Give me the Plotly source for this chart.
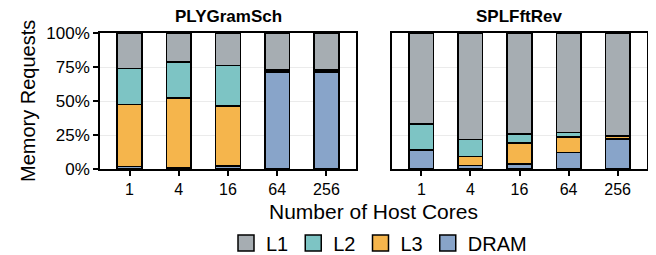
import plotly.graph_objects as go

categories = ["1", "4", "16", "64", "256"]
panels = ["PLYGramSch", "SPLFftRev"]
levels = ["DRAM", "L3", "L2", "L1"]  # bottom to top
legend_order = ["L1", "L2", "L3", "DRAM"]

ply_dram = [1.7, 1.0, 2.3, 71.5, 71.5]
ply_l3 = [45.7, 51.3, 43.9, 0.8, 0.8]
ply_l2 = [26.4, 26.2, 29.8, 1.0, 1.0]
ply_l1 = [26.2, 21.5, 24.0, 26.7, 26.7]

spl_dram = [14.1, 2.7, 3.5, 12.1, 22.1]
spl_l3 = [0.0, 6.4, 15.5, 11.6, 2.2]
spl_l2 = [19.0, 12.6, 6.9, 3.2, 0.2]
spl_l1 = [66.9, 78.3, 74.1, 73.1, 75.5]

y_ticks = [0, 25, 50, 75, 100]
y_ticktext = ["0%", "25%", "50%", "75%", "100%"]

colors = {"L1": "#A6ADB2", "L2": "#7DC4C4", "L3": "#F5B54C", "DRAM": "#88A4C9"}

data = {
    "PLYGramSch": {"DRAM": ply_dram, "L3": ply_l3, "L2": ply_l2, "L1": ply_l1},
    "SPLFftRev": {"DRAM": spl_dram, "L3": spl_l3, "L2": spl_l2, "L1": spl_l1},
}

FONT = "Liberation Sans, Arial, sans-serif"
fig = go.Figure()
for i, p in enumerate(panels):
    xa = "x" if i == 0 else "x2"
    ya = "y" if i == 0 else "y2"
    for lv in levels:
        fig.add_trace(go.Bar(
            x=categories, y=data[p][lv], name=lv,
            marker=dict(color=colors[lv], line=dict(color="black", width=1.5)),
            width=0.5, xaxis=xa, yaxis=ya, legendgroup=lv, showlegend=False,
        ))

# legend entries with larger square keys (no data drawn)
for lv in legend_order:
    fig.add_trace(go.Scatter(
        x=[None], y=[None], mode="markers", name=lv, legendgroup=lv,
        marker=dict(symbol="square", size=16, color=colors[lv],
                    line=dict(color="black", width=1.5)),
        showlegend=True, xaxis="x", yaxis="y",
    ))

# page body has an 8px offset; work in reference pixel coords minus OFF
OFF = 8
W, H = 656 - OFF, 255 - OFF
ml = 100 - OFF
mt = 33 - OFF
mr = W - (647 - OFF)
mb = H - (169 - OFF)
pw = W - ml - mr
ph = H - mt - mb
d1 = [0, 256 / pw]
d2 = [292 / pw, 1]

def py(pix):
    return (169 - pix) / ph

def px(pix):
    return ((pix - OFF) - ml) / pw

common_x = dict(type="category", categoryarray=categories, categoryorder="array",
                range=[-0.6, 4.6], showline=True, mirror=True,
                linecolor="black", linewidth=1.5, ticks="outside", ticklen=5,
                tickcolor="black", tickwidth=1.5, showgrid=False, zeroline=False,
                automargin=False,
                tickfont=dict(family=FONT, size=16, color="black"))
common_y = dict(range=[0, 100], showline=True, mirror=True, linecolor="black",
                linewidth=1.5, tickvals=y_ticks, ticktext=y_ticktext,
                showgrid=True, gridcolor="#EBEBEB", gridwidth=1, zeroline=False,
                automargin=False,
                tickfont=dict(family=FONT, size=17, color="black"))

fig.update_layout(
    width=W, height=H,
    margin=dict(l=ml, r=mr, t=mt, b=mb, autoexpand=False),
    paper_bgcolor="white", plot_bgcolor="white",
    barmode="stack",
    xaxis=dict(domain=d1, anchor="y", **common_x),
    xaxis2=dict(domain=d2, anchor="y2", **common_x),
    yaxis=dict(anchor="x", ticks="outside", ticklen=5, tickcolor="black", tickwidth=1.5, **common_y),
    yaxis2=dict(anchor="x2", ticks="", showticklabels=False, **common_y),
    showlegend=True,
    legend=dict(orientation="h", traceorder="normal", x=px(379), xanchor="center",
                y=py(243), yanchor="middle", font=dict(family=FONT, size=20, color="black"),
                itemsizing="trace", itemwidth=30),
    font=dict(family=FONT, color="black"),
)

ann = []
ann.append(dict(text="<b>PLYGramSch</b>", x=(d1[0] + d1[1]) / 2, y=py(17),
                xref="paper", yref="paper", showarrow=False, xanchor="center", yanchor="middle",
                font=dict(family=FONT, size=17, color="black")))
ann.append(dict(text="<b>SPLFftRev</b>", x=(d2[0] + d2[1]) / 2, y=py(17),
                xref="paper", yref="paper", showarrow=False, xanchor="center", yanchor="middle",
                font=dict(family=FONT, size=17, color="black")))
ann.append(dict(text="Number of Host Cores", x=0.5, y=py(211),
                xref="paper", yref="paper", showarrow=False, xanchor="center", yanchor="middle",
                font=dict(family=FONT, size=21, color="black")))
ann.append(dict(text="Memory Requests", x=px(28), y=0.5, textangle=-90,
                xref="paper", yref="paper", showarrow=False, xanchor="center", yanchor="middle",
                font=dict(family=FONT, size=20, color="black")))
fig.update_layout(annotations=ann)

fig.write_html("out.html")
